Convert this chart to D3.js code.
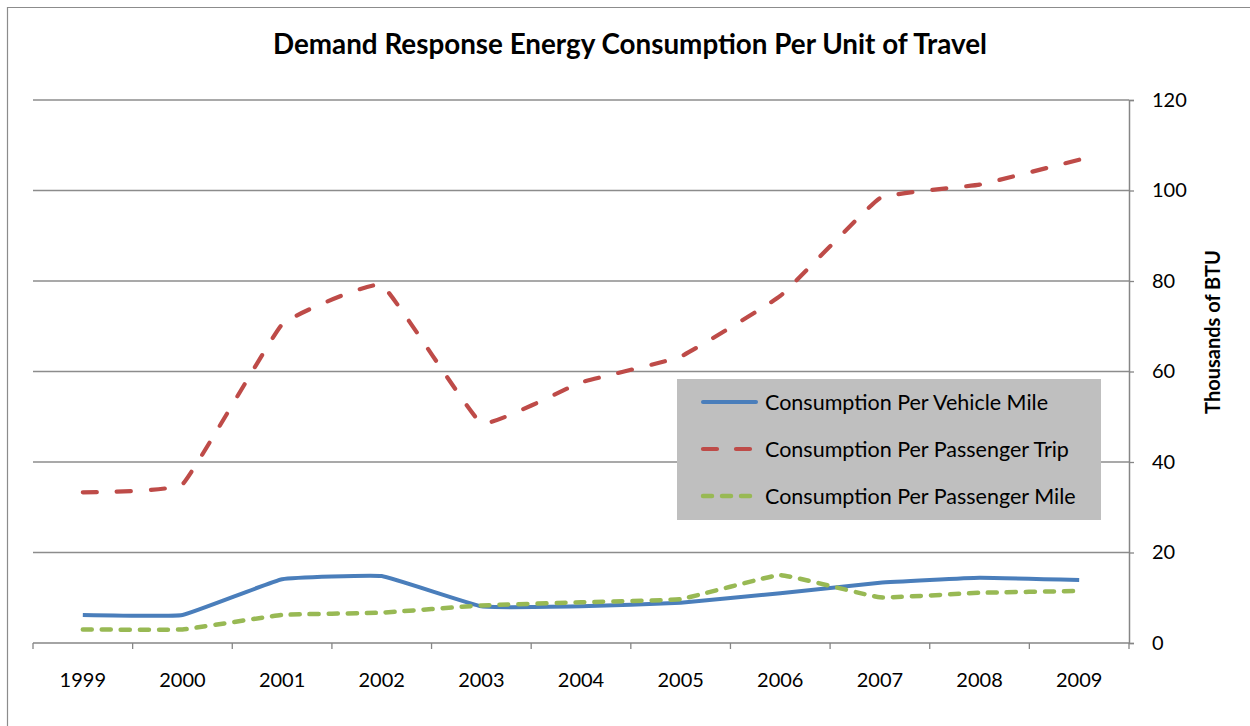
<!DOCTYPE html>
<html>
<head>
<meta charset="utf-8">
<script src="https://cdn.jsdelivr.net/npm/d3@7"></script>
<style>
  body { margin: 0; background: #fff; }
  svg { display: block; }
  text { font-family: Lato, "Liberation Sans", sans-serif; fill: #000; }
</style>
</head>
<body>
<div id="chart"></div>
<script>
// Données (milliers de BTU)
const years = ['1999', '2000', '2001', '2002', '2003', '2004', '2005', '2006', '2007', '2008', '2009'];
const perVehicleMile = [6.2, 6.2, 14.1, 14.8, 8.1, 8.1, 8.9, 11.0, 13.3, 14.4, 13.9];
const perPassengerTrip = [33.3, 35.1, 70.4, 79.1, 48.6, 57.6, 63.3, 76.7, 98.3, 101.3, 106.8];
const perPassengerMile = [3.0, 3.0, 6.2, 6.7, 8.3, 9.0, 9.7, 15.0, 10.1, 11.1, 11.5];
const yTicks = [0, 20, 40, 60, 80, 100, 120];
const seriesNames = ['Consumption Per Vehicle Mile', 'Consumption Per Passenger Trip', 'Consumption Per Passenger Mile'];

const width = 1250;
const height = 726;
const plot = { left: 33, right: 1129, top: 100, bottom: 643 };

const series = [
    { name: seriesNames[0], values: perVehicleMile, color: '#4a7ebb', dash: null, w: 4 },
    { name: seriesNames[1], values: perPassengerTrip, color: '#be4b48', dash: '14,20', w: 4.2 },
    { name: seriesNames[2], values: perPassengerMile, color: '#98b954', dash: '9,10', w: 4.5 }
];

const svg = d3.select('#chart').append('svg')
    .attr('width', width)
    .attr('height', height);

// Cadre extérieur (coupé à droite et en bas)
svg.append('path')
    .attr('d', 'M7.5,726 V7.5 H1250')
    .attr('fill', 'none')
    .attr('stroke', '#8c8c8c')
    .attr('stroke-width', 1.2);

const x = d3.scaleBand().domain(years).range([plot.left, plot.right]);
const y = d3.scaleLinear().domain([0, 120]).range([plot.bottom, plot.top]);

// Quadrillage horizontal
svg.append('g').selectAll('line')
    .data(yTicks.filter(d => d > 0))
    .enter().append('line')
    .attr('x1', plot.left).attr('x2', plot.right)
    .attr('y1', d => y(d)).attr('y2', d => y(d))
    .attr('stroke', '#8c8c8c')
    .attr('stroke-width', 1.3);

// Axe de droite
const yAxis = svg.append('g')
    .attr('transform', `translate(${plot.right},0)`)
    .call(d3.axisRight(y).tickValues(yTicks).tickSize(5).tickPadding(18));
yAxis.select('.domain').attr('stroke', '#868686').attr('stroke-width', 1.5);
yAxis.selectAll('.tick line').attr('stroke', '#868686').attr('stroke-width', 1.3);
yAxis.selectAll('.tick text')
    .style('font-family', 'Lato, "Liberation Sans", sans-serif')
    .style('font-size', '20px')
    .attr('fill', '#000');

// Axe du bas
const xAxis = svg.append('g')
    .attr('transform', `translate(0,${plot.bottom})`)
    .call(d3.axisBottom(x).tickSize(0).tickPadding(30));
xAxis.select('.domain').remove();
xAxis.selectAll('.tick text')
    .style('font-family', 'Lato, "Liberation Sans", sans-serif')
    .style('font-size', '20px')
    .attr('fill', '#000');

svg.append('line')
    .attr('x1', plot.left).attr('x2', plot.right)
    .attr('y1', plot.bottom).attr('y2', plot.bottom)
    .attr('stroke', '#868686').attr('stroke-width', 1.5);

const edges = years.map(d => x(d)).concat([x(years[years.length - 1]) + x.bandwidth()]);
svg.append('g').selectAll('line')
    .data(edges)
    .enter().append('line')
    .attr('x1', d => d).attr('x2', d => d)
    .attr('y1', plot.bottom).attr('y2', plot.bottom + 6)
    .attr('stroke', '#868686').attr('stroke-width', 1.3);

// Courbes (lissage léger comme dans Excel)
const line = d3.line()
    .x((d, i) => x(years[i]) + x.bandwidth() / 2)
    .y(d => y(d))
    .curve(d3.curveCardinal.tension(0.72));

series.forEach(s => {
    svg.append('path')
        .datum(s.values)
        .attr('d', line)
        .attr('fill', 'none')
        .attr('stroke', s.color)
        .attr('stroke-width', s.w)
        .attr('stroke-linecap', s.dash ? 'round' : 'butt')
        .attr('stroke-linejoin', 'round')
        .attr('stroke-dasharray', s.dash);
});

// Légende
const legend = svg.append('g').attr('transform', 'translate(677,379)');
legend.append('rect')
    .attr('width', 424).attr('height', 141)
    .attr('fill', '#bfbfbf');
series.forEach((s, i) => {
    const ly = 23 + i * 47;
    legend.append('line')
        .attr('x1', 26).attr('x2', 79)
        .attr('y1', ly).attr('y2', ly)
        .attr('stroke', s.color)
        .attr('stroke-width', s.w)
        .attr('stroke-linecap', 'round')
        .attr('stroke-dasharray', i === 1 ? '14,19' : s.dash);
    legend.append('text')
        .attr('x', 88).attr('y', ly)
        .attr('dy', '0.35em')
        .style('font-size', '21.5px')
        .text(s.name);
});

// Titre
svg.append('text')
    .attr('x', 630).attr('y', 54)
    .attr('text-anchor', 'middle')
    .style('font-size', '27.8px')
    .style('font-weight', 'bold')
    .text('Demand Response Energy Consumption Per Unit of Travel');

// Titre de l'axe
svg.append('text')
    .attr('transform', 'translate(1220,332) rotate(-90)')
    .attr('text-anchor', 'middle')
    .style('font-size', '20px')
    .style('font-weight', 'bold')
    .text('Thousands of BTU');
</script>
</body>
</html>
